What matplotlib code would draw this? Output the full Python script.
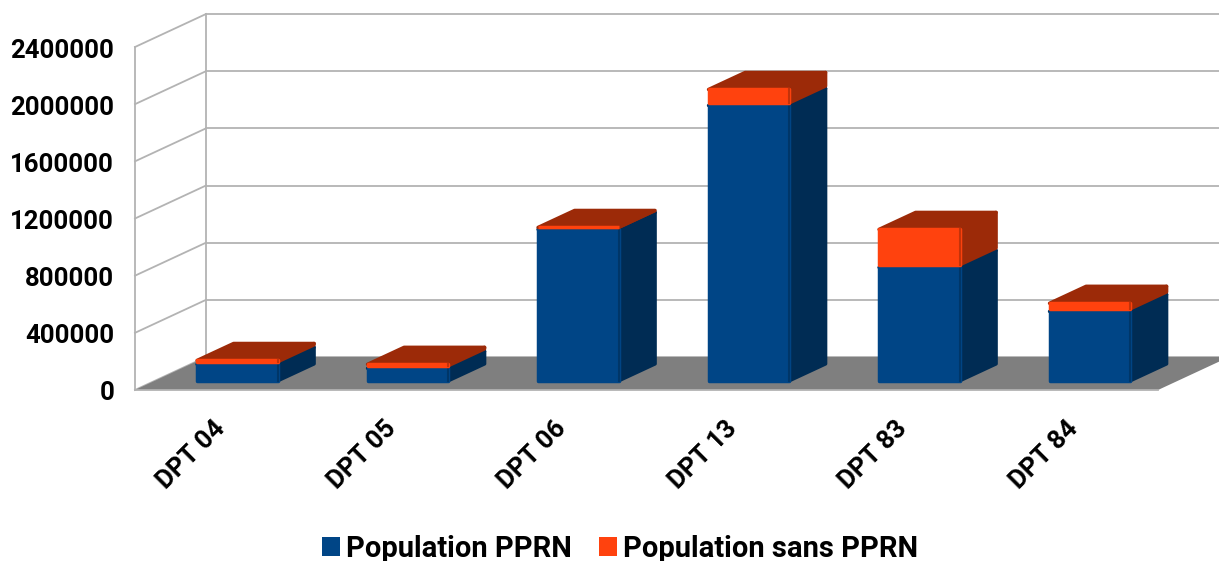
# -*- coding: utf-8 -*-
import matplotlib.pyplot as plt
from matplotlib.patches import Patch, Polygon
from matplotlib.transforms import ScaledTranslation

CATEGORIES = ['DPT 04', 'DPT 05', 'DPT 06', 'DPT 13', 'DPT 83', 'DPT 84']
POP_PPRN = [133000, 105000, 1077000, 1944000, 811000, 503000]
POP_SANS_PPRN = [27000, 28000, 10000, 112000, 266000, 57000]
Y_TICKS = [0, 400000, 800000, 1200000, 1600000, 2000000, 2400000]

BLUE = '#004586'
BLUE_SIDE = '#002c54'
ORANGE = '#ff420e'
ORANGE_TOP = '#9c2a08'
GRID = '#b3b3b3'
FLOOR = '#7f7f7f'

W, H = 1219, 561

# fake 3d: how far the back wall is shifted from the front plane, in data units
DEPTH_X = 0.4164
DEPTH_Y = 230800
BAR_WIDTH = 0.472
BAR_D0 = 0.24
BAR_D1 = 0.755
# the round line join adds about 1.25 px around each face, take it back off the value
PAD = 8700

plt.rcParams['font.family'] = ['Roboto', 'DejaVu Sans']
plt.rcParams['font.weight'] = 'bold'


def project(x, v, d):
    return (x + d * DEPTH_X, v + d * DEPTH_Y)


def face(ax, points, color, z):
    ax.add_patch(Polygon(points, closed=True, facecolor=color, edgecolor=color,
                         linewidth=2.5, joinstyle='round', clip_on=False, zorder=z))


def draw_box(ax, x, v0, v1, front, side, z):
    l, r = x - BAR_WIDTH / 2, x + BAR_WIDTH / 2
    if v1 - v0 > 2 * PAD:
        v0, v1 = v0 + PAD, v1 - PAD
    else:
        v0 = v1 = (v0 + v1) / 2
    face(ax, [project(r, v0, BAR_D0), project(r, v0, BAR_D1),
              project(r, v1, BAR_D1), project(r, v1, BAR_D0)], side, z)
    face(ax, [project(l, v1, BAR_D0), project(l, v1, BAR_D1),
              project(r, v1, BAR_D1), project(r, v1, BAR_D0)], side, z)
    face(ax, [project(l, v0, BAR_D0), project(r, v0, BAR_D0),
              project(r, v1, BAR_D0), project(l, v1, BAR_D0)], front, z + 0.1)
    # soft dark edge where the front meets the side
    ax.plot(*zip(project(r, v0, BAR_D0), project(r, v1, BAR_D0)), color=side, lw=1.5,
            alpha=0.6, clip_on=False, zorder=z + 0.2)


fig = plt.figure(figsize=(W / 100, H / 100), dpi=100)
ax = fig.add_axes([135 / W, (H - 390) / H, (1158 - 135) / W, 343 / H])
ax.set_xlim(-0.5, 5.5)
ax.set_ylim(0, 2400000)
ax.patch.set_visible(False)

x0, x1 = -0.5, 5.5

# floor
ax.add_patch(Polygon([project(x0, 0, 0), project(x0, 0, 1), project(x1, 0, 1), project(x1, 0, 0)],
                     closed=True, facecolor=FLOOR, edgecolor='none', clip_on=False, zorder=1))

# walls
for v in Y_TICKS:
    ax.plot(*zip(project(x0, v, 0), project(x0, v, 1)), color=GRID, lw=1.3, clip_on=False, zorder=0)
    ax.plot(*zip(project(x0, v, 1), project(x1, v, 1)), color=GRID, lw=1.3, clip_on=False, zorder=0)
ax.plot(*zip(project(x0, 0, 1), project(x0, Y_TICKS[-1], 1)), color=GRID, lw=1.3, clip_on=False, zorder=0)

for i in range(len(CATEGORIES)):
    v0 = POP_PPRN[i]
    draw_box(ax, i, 0, v0, BLUE, BLUE_SIDE, 3)
    draw_box(ax, i, v0, v0 + POP_SANS_PPRN[i], ORANGE, ORANGE_TOP, 4)

for s in ['top', 'right']:
    ax.spines[s].set_visible(False)
for s in ['left', 'bottom']:
    ax.spines[s].set_color(GRID)
    ax.spines[s].set_linewidth(1.3)

ax.set_yticks(Y_TICKS)
ax.set_yticklabels([str(v) for v in Y_TICKS], fontsize=18.5, fontweight='bold')
ax.set_xticks(range(len(CATEGORIES)))
ax.set_xticklabels(CATEGORIES, fontsize=18.5, fontweight='bold', rotation=45,
                   ha='right', rotation_mode='anchor')
ax.tick_params(axis='y', length=0, pad=15)
ax.tick_params(axis='x', length=0, pad=19)
for label in ax.get_xticklabels():
    label.set_transform(label.get_transform() + ScaledTranslation(-7 / 100, 0, fig.dpi_scale_trans))
for label in ax.get_yticklabels():
    label.set_transform(label.get_transform() + ScaledTranslation(0, -1 / 100, fig.dpi_scale_trans))

handles = [Patch(facecolor=BLUE, label='Population PPRN'),
           Patch(facecolor=ORANGE, label='Population sans PPRN')]
fig.legend(handles=handles, loc='center', bbox_to_anchor=(620 / W, (H - 549) / H), ncol=2,
           frameon=False, fontsize=21, handlelength=0.62, handleheight=0.62,
           handletextpad=0.22, columnspacing=0.9, borderpad=0)

fig.savefig('out.png', dpi=100)
